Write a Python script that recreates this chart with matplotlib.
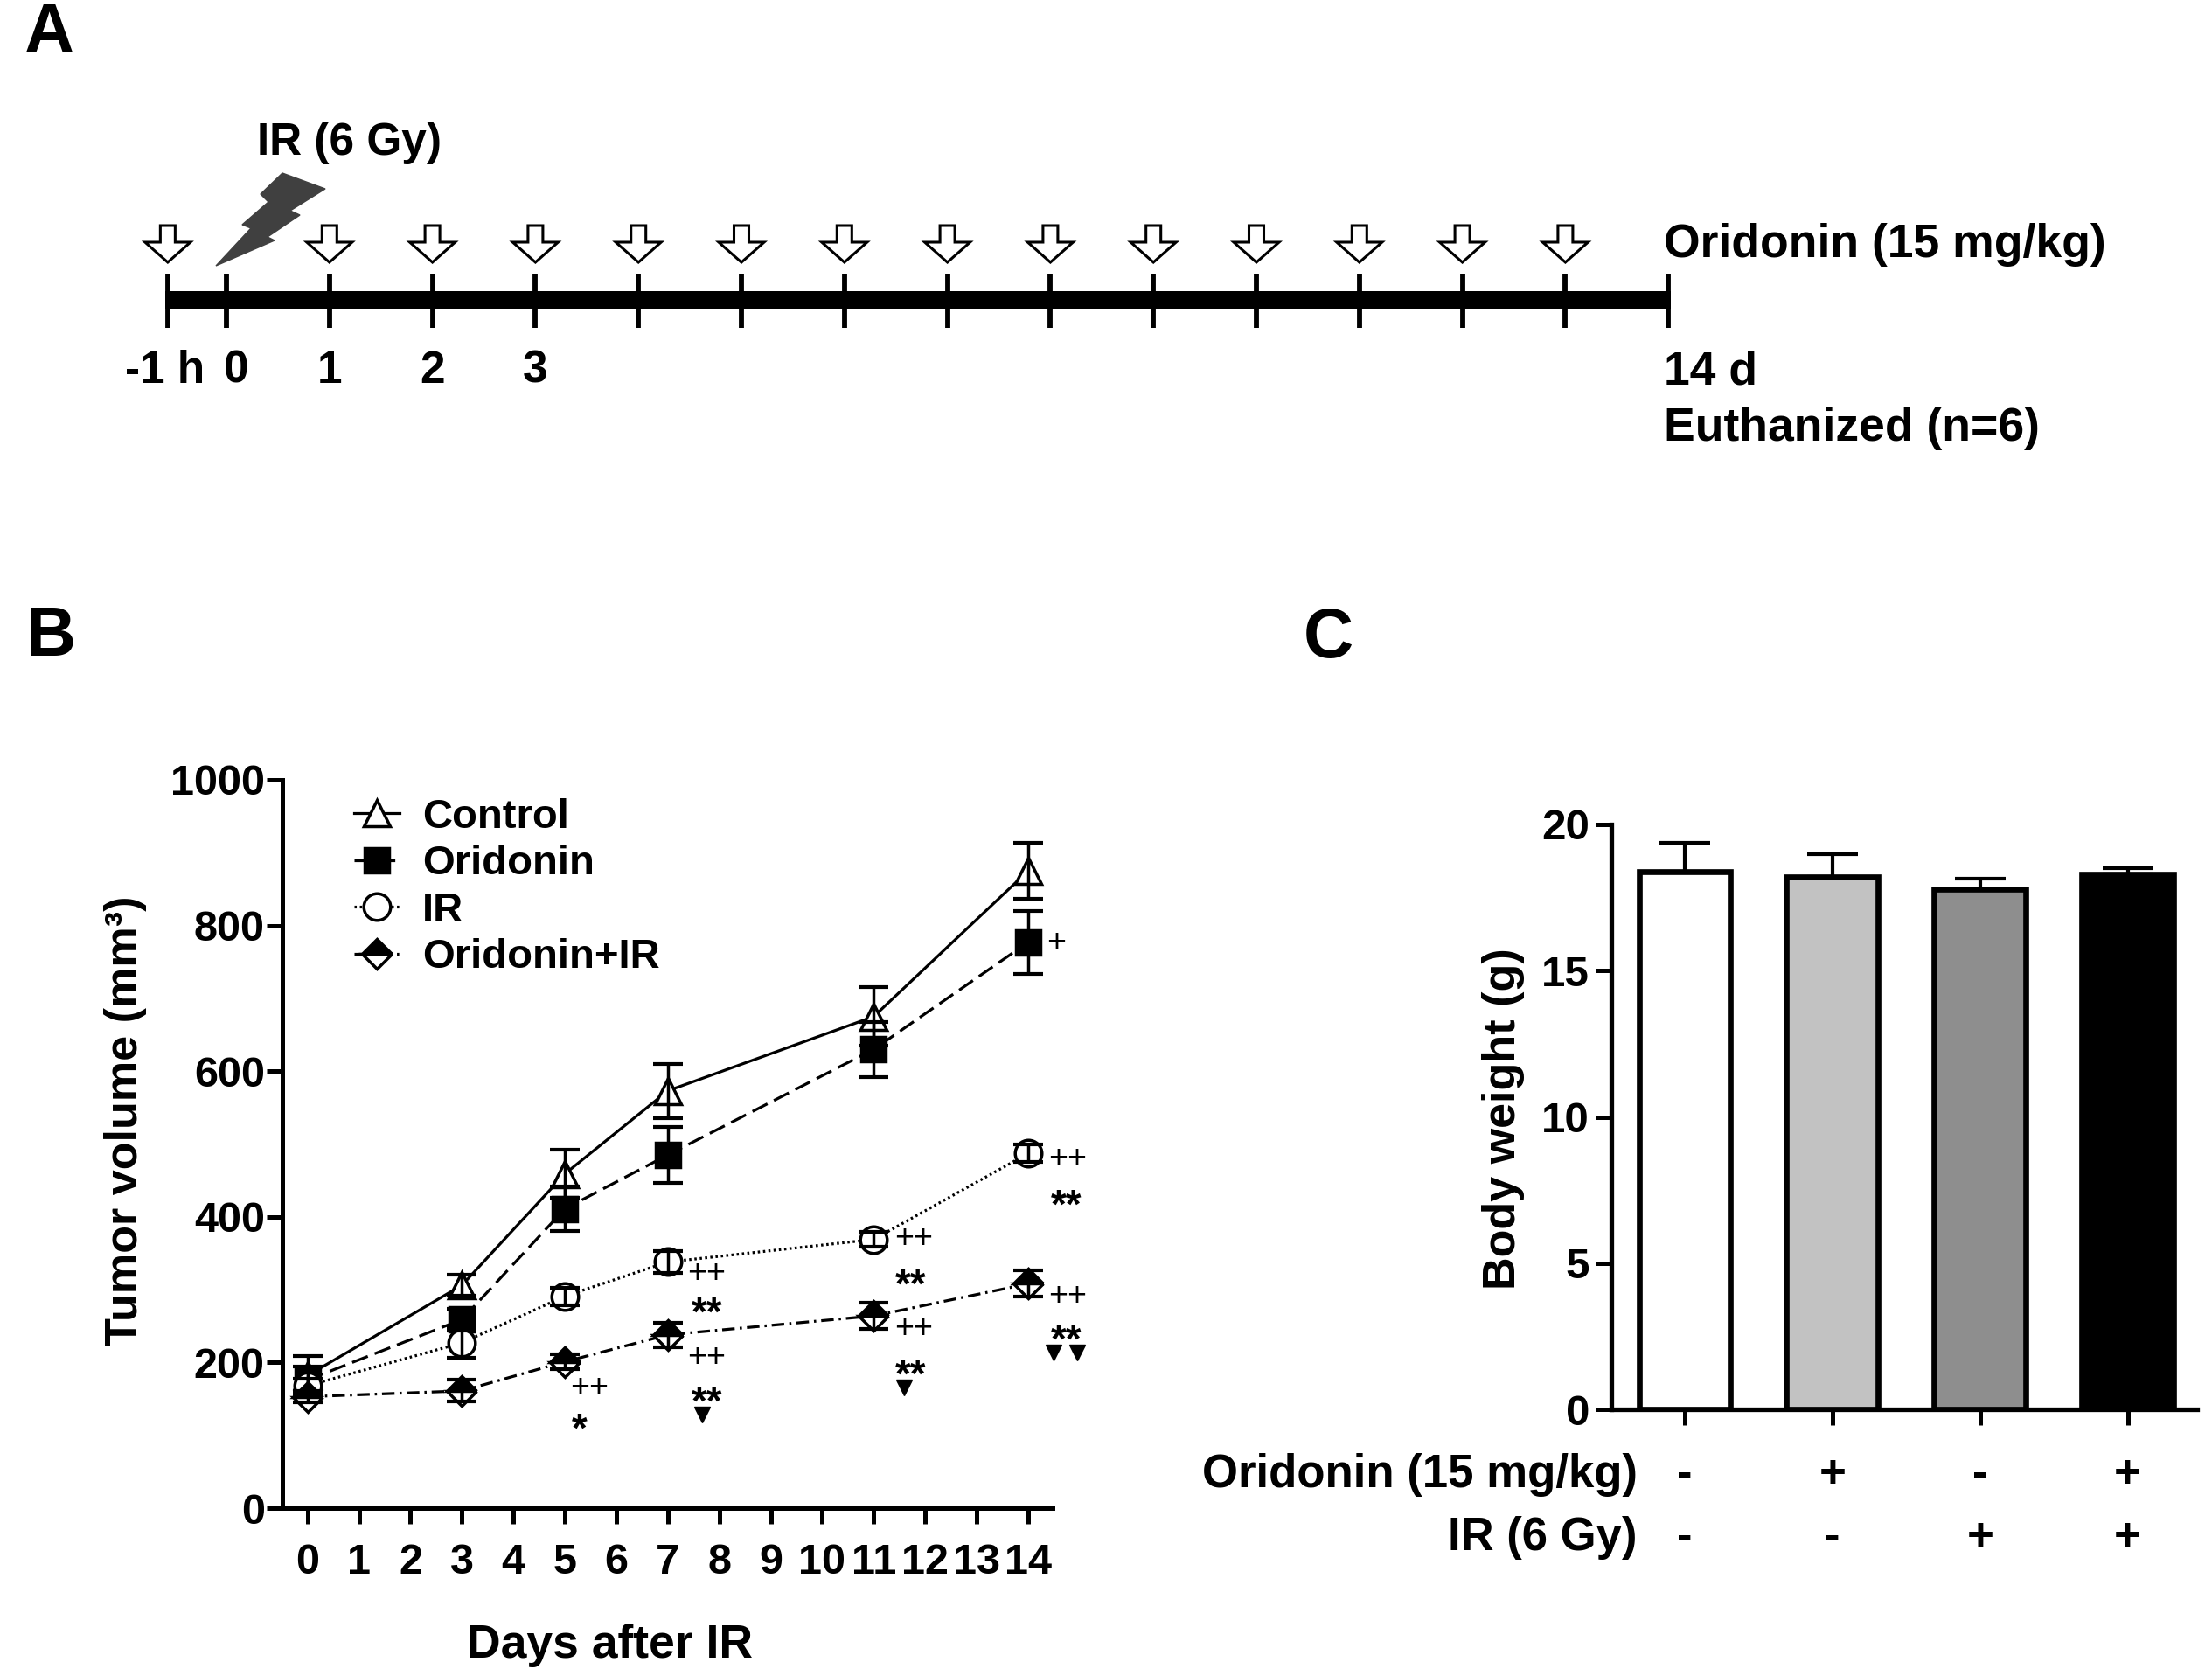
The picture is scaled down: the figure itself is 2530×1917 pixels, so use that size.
import matplotlib
matplotlib.use('Agg')
import matplotlib.pyplot as plt
from matplotlib.patches import Polygon, Rectangle
from matplotlib.transforms import blended_transform_factory
import numpy as np

plt.rcParams['font.family'] = ['Liberation Sans', 'DejaVu Sans']
plt.rcParams['font.weight'] = 'bold'

W, H = 2530, 1917

# ---------------- data ----------------
# Panel A : treatment schedule
timeline_ticks = [-0.57, 0, 1, 2, 3, 4, 5, 6, 7, 8, 9, 10, 11, 12, 13, 14]
oridonin_days = [-0.57, 1, 2, 3, 4, 5, 6, 7, 8, 9, 10, 11, 12, 13]
ir_day = 0
timeline_labels = ['-1 h', '0', '1', '2', '3']
timeline_label_pos = [-0.6, 0.1, 1, 2, 3]

# Panel B : tumor volume
days = [0, 3, 5, 7, 11, 14]
control_mean = [182, 306, 459, 573, 675, 875]
control_sem = [27, 14, 33, 37, 40, 38]
oridonin_mean = [176, 259, 411, 485, 630, 777]
oridonin_sem = [18, 15, 31, 38, 38, 43]
ir_mean = [168, 227, 291, 338, 369, 487]
ir_sem = [10, 20, 12, 15, 10, 12]
combo_mean = [153, 161, 201, 238, 264, 308]
combo_sem = [8, 15, 10, 17, 18, 18]
series_names = ['Control', 'Oridonin', 'IR', 'Oridonin+IR']

# significance marks (text)
annot_x = [5.47, 5.28,
           7.76, 7.76, 7.76, 7.76,
           11.77, 11.72, 11.77, 11.72,
           14.55, 14.77, 14.74, 14.77, 14.74]
annot_y = [164, 123,
           322, 283, 207, 161,
           370, 322, 246, 198,
           775, 479, 431, 291, 246]
annot_s = ['++', '*',
           '++', '**', '++', '**',
           '++', '**', '++', '**',
           '+', '++', '**', '++', '**']
# significance marks (filled down-triangles)
tri_x = [7.67, 11.59, 14.5, 14.96]
tri_y = [128, 166, 214, 214]

# Panel C : body weight
groups = [0, 1, 2, 3]
body_weight = [18.39, 18.2, 17.78, 18.3]
body_weight_sem = [0.97, 0.78, 0.37, 0.22]
bar_colors = ['white', '#c2c2c2', '#8e8e8e', 'black']
oridonin_row = ['-', '+', '-', '+']
ir_row = ['-', '-', '+', '+']


def rect(left, top, right, bottom):
    return [left / W, 1 - bottom / H, (right - left) / W, (bottom - top) / H]


fig = plt.figure(figsize=(W / 100, H / 100), dpi=100)

# ---------------- Panel A ----------------
px0, pxday = 259.0, 117.8
axA = fig.add_axes([0, 1 - 600 / H, 1, 600 / H])
axA.set_xlim(-px0 / pxday, (W - px0) / pxday)
axA.set_ylim(600, 0)
axA.axis('off')

tick_half = 3 / pxday
axA.add_patch(Rectangle((timeline_ticks[0] - tick_half, 333),
                        timeline_ticks[-1] - timeline_ticks[0] + 2 * tick_half, 20,
                        facecolor='black', edgecolor='none'))
axA.vlines(timeline_ticks, 313, 375, colors='black', linewidth=4.2)

sw, hw = 8.5 / pxday, 26 / pxday
for d in oridonin_days:
    pts = [(d - sw, 258), (d + sw, 258), (d + sw, 277), (d + hw, 277),
           (d, 300), (d - hw, 277), (d - sw, 277)]
    axA.add_patch(Polygon(pts, closed=True, facecolor='white', edgecolor='black',
                          linewidth=2.2, joinstyle='miter'))

bolt_px = [(323, 198), (372, 216), (332, 241), (343, 246), (306, 271), (314, 275),
           (247, 304), (287, 261), (277, 257), (307, 231), (298, 222)]
base = px0 + pxday * ir_day
bolt = [(ir_day + (x - base) / pxday, y) for x, y in bolt_px]
axA.add_patch(Polygon(bolt, closed=True, facecolor='#404040', edgecolor='#404040', linewidth=1))

axA.text((399 - px0) / pxday, 163, 'IR (6 Gy)', fontsize=37, ha='center', va='center')
for lab, pos in zip(timeline_labels, timeline_label_pos):
    axA.text(pos, 424, lab, fontsize=37, ha='center', va='center')
xr = (1903 - px0) / pxday
axA.text(xr, 280, 'Oridonin (15 mg/kg)', fontsize=38.5, ha='left', va='center')
axA.text(xr, 425, '14 d', fontsize=38.5, ha='left', va='center')
axA.text(xr, 490, 'Euthanized (n=6)', fontsize=38.5, ha='left', va='center')

fig.text(56 / W, 1 - 40 / H, 'A', fontsize=57, ha='center', va='center')
fig.text(58 / W, 1 - 730 / H, 'B', fontsize=57, ha='center', va='center')
fig.text(1519 / W, 1 - 731 / H, 'C', fontsize=57, ha='center', va='center')

# ---------------- Panel B ----------------
axB = fig.add_axes(rect(323, 892, 1204, 1725))
for s in ['top', 'right']:
    axB.spines[s].set_visible(False)
for s in ['left', 'bottom']:
    axB.spines[s].set_linewidth(3.6)
axB.set_xlim(-0.487, 14.476)
axB.set_ylim(0, 1000)
axB.set_xticks(range(0, 15))
axB.set_xticklabels([str(i) for i in range(0, 15)])
axB.set_yticks(range(0, 1001, 200))
axB.tick_params(axis='both', length=13, width=3.6, labelsize=35, direction='out')
axB.tick_params(axis='y', pad=1.5)
axB.tick_params(axis='x', pad=16)

means = [control_mean, oridonin_mean, ir_mean, combo_mean]
sems = [control_sem, oridonin_sem, ir_sem, combo_sem]
markers = ['^', 's', 'o', 'D']
msizes = [22, 20, 22, 17]
faces = ['white', 'black', 'white', 'black']
styles = ['-', (0, (6, 2.6)), (0, (0.8, 1.1)), (0, (4.5, 1.8, 0.8, 1.8))]
fills = ['full', 'full', 'full', 'top']
for name, m, e, mk, ms, fc, ls, fs in zip(series_names, means, sems, markers,
                                          msizes, faces, styles, fills):
    axB.plot(days, m, marker=mk, markersize=ms, markerfacecolor=fc,
             markerfacecoloralt='white', fillstyle=fs, markeredgecolor='black',
             markeredgewidth=2.5, color='black', linewidth=2.3, linestyle=ls,
             label=name, zorder=3, clip_on=False)
    axB.errorbar(days, m, yerr=e, fmt='none', ecolor='black', elinewidth=2.5,
                 capsize=12, capthick=3.0, zorder=4, clip_on=False)

for x, y, s in zip(annot_x, annot_y, annot_s):
    if '+' in s:
        axB.text(x, y, s, fontsize=27, fontweight='normal', ha='center', va='center',
                 clip_on=False, zorder=5)
    else:
        axB.annotate(s, (x, y), xytext=(0, -0.58 * 33), textcoords='offset points',
                     fontsize=33, fontweight='bold', ha='center', va='baseline',
                     annotation_clip=False, zorder=5)
axB.plot(tri_x, tri_y, linestyle='none', marker='v', markersize=13,
         color='black', clip_on=False, zorder=5)

axB.legend(loc='upper left', bbox_to_anchor=(0.093, 0.975), frameon=False,
           fontsize=34, handlelength=1.1, handletextpad=0.55, labelspacing=0.2,
           borderpad=0, borderaxespad=0, numpoints=1)

fig.text(143 / W, 1 - 1282 / H, 'Tumor volume (mm\u00b3)', fontsize=37.5,
         rotation=90, ha='center', va='center')
fig.text(697 / W, 1 - 1882 / H, 'Days after IR', fontsize=38.5, ha='center', va='center')

# ---------------- Panel C ----------------
axC = fig.add_axes(rect(1843, 943, 2513, 1612))
for s in ['top', 'right']:
    axC.spines[s].set_visible(False)
for s in ['left', 'bottom']:
    axC.spines[s].set_linewidth(3.8)
axC.bar(groups, body_weight, width=0.62, color=bar_colors, edgecolor='black',
        linewidth=4.8, zorder=2)
axC.errorbar(groups, body_weight, yerr=[np.zeros(len(groups)), body_weight_sem],
             fmt='none', ecolor='black', elinewidth=3.0, capsize=21, capthick=3.0,
             zorder=1)
axC.set_xlim(-0.497, 3.47)
axC.set_ylim(0, 20)
axC.set_yticks(range(0, 21, 5))
axC.set_xticks(groups)
axC.set_xticklabels([''] * len(groups))
axC.tick_params(axis='both', length=13, width=3.6, labelsize=35.5, direction='out')
axC.tick_params(axis='y', pad=5)

tr = blended_transform_factory(axC.transData, axC.transAxes)
row1_y = (1612 - 1687) / 669
row2_y = (1612 - 1759) / 669
xlab = (1873 - 1927) / 169
axC.text(xlab, row1_y, 'Oridonin (15 mg/kg)', transform=tr, fontsize=38,
         ha='right', va='center', clip_on=False)
axC.text(xlab, row2_y, 'IR (6 Gy)', transform=tr, fontsize=38,
         ha='right', va='center', clip_on=False)
for g, a, b in zip(groups, oridonin_row, ir_row):
    axC.text(g, row1_y, a, transform=tr, fontsize=38, ha='center', va='center', clip_on=False)
    axC.text(g, row2_y, b, transform=tr, fontsize=38, ha='center', va='center', clip_on=False)

fig.text(1719 / W, 1 - 1280 / H, 'Body weight (g)', fontsize=37.5, rotation=90,
         ha='center', va='center')

fig.savefig('out.png', dpi=100)
